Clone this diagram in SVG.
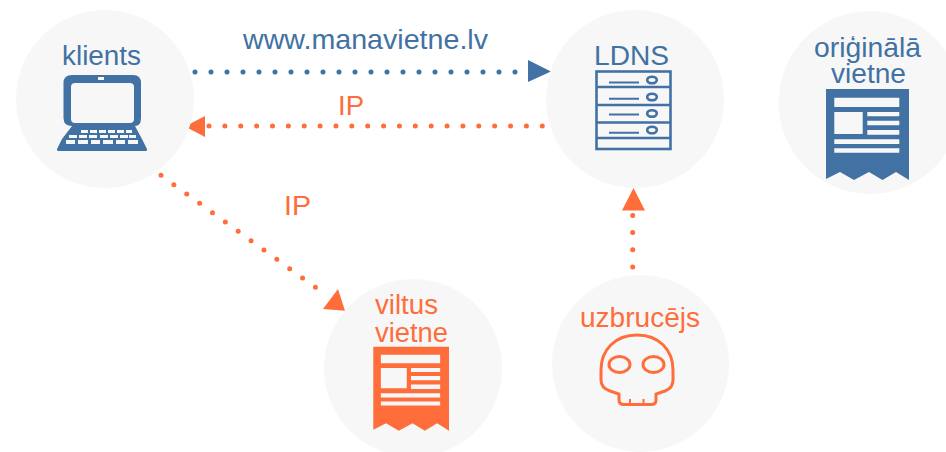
<svg xmlns="http://www.w3.org/2000/svg" xmlns:xlink="http://www.w3.org/1999/xlink" width="946" height="452" viewBox="0 0 946 452">
<style>
.c{fill:#f7f7f7}
.t{font-family:"Liberation Sans",Arial,sans-serif;font-size:27.500px}
.b{fill:#4172a3}
.o{fill:#fe6d3a}
.d{fill:none;stroke-width:5;stroke-linecap:round;stroke-dasharray:0 16}
.sb{stroke:#4172a3}
.so{stroke:#fe6d3a}
.i{fill:#f7f7f7}
</style>
<defs>
<g id="doc">
<path d="M0 0H83V91L70 83 56.500 91 43 83 28 91 14 83 0 90Z"/>
<path class="i" d="M8.300 8.700H73.300V18H8.300ZM8.300 23H36.700V45H8.300ZM41.300 23H73.300V27.300H41.300ZM41.300 31.700H73.300V36.300H41.300ZM41.300 41H73.300V45.700H41.300ZM8.300 50.300H73.300V55H8.300ZM8.300 59.300H73.300V63.700H8.300Z"/>
</g>
</defs>
<rect width="946" height="452" fill="#fff"/>
<g id="connectors">
<line class="d sb" x1="195" y1="72" x2="525" y2="72"/>
<polygon class="b" points="528,60 551,71.500 528,82"/>
<line class="d so" x1="209" y1="126" x2="544" y2="126" style="stroke-dasharray:0 15.870"/>
<polygon class="o" points="185,126.500 205,116 205,137"/>
<line class="d so" x1="161" y1="175.300" x2="328" y2="296.500" style="stroke-dasharray:0 15.900"/>
<polygon class="o" points="338,289 345,310.700 323,309"/>
<line class="d so" x1="632.700" y1="267" x2="632.700" y2="214" style="stroke-dasharray:0 17.200"/>
<polygon class="o" points="633.500,188 645,210.500 622,210.500"/>
</g>
<g id="klients">
<circle class="c" cx="105" cy="99" r="89"/>
<path class="b" fill-rule="evenodd" d="M72 75H133Q141 75 141 83V118Q141 126 135 126L142 139 147 149Q147.500 151 145 151H59Q56.500 151 57 149L62 139 72 126Q63.500 126 63.500 118V83Q63.500 75 72 75ZM75 83Q71 83 71 87V119Q71 123 75 123H130Q134 123 134 119V87Q134 83 130 83Z"/>
<path class="i" d="M98 77H104V80H98ZM81 130H88V133H81ZM90 130H97V133H90ZM99 130H106V133H99ZM108 130H115V133H108ZM117 130H124V133H117ZM126 130H132V133H126ZM69 135H77V138H69ZM79 135H87V138H79ZM89 135H97V138H89ZM100 135H108V138H100ZM110 135H118V138H110ZM120 135H128V138H120ZM129 135H136V138H129ZM66 140H75V144H66ZM78 140H88V144H78ZM91 140H100V144H91ZM103 140H113V144H103ZM116 140H125V144H116ZM128 140H138V144H128Z"/>
<text class="t b" x="62" y="65" textLength="79" lengthAdjust="spacingAndGlyphs">klients</text>
</g>
<g id="ldns">
<circle class="c" cx="635" cy="99" r="89"/>
<g fill="none" stroke="#4172a3" stroke-width="2.600">
<rect x="596.500" y="71.500" width="74" height="77.500"/>
<path d="M596.500 87H670.500M596.500 105H670.500M596.500 122.500H670.500M596.500 138H670.500"/>
<path stroke-width="2" d="M609 82.500H639M609 98.700H639M609 114.500H639M609 132.700H639"/>
<ellipse cx="652" cy="80" rx="4.800" ry="3.300"/>
<ellipse cx="652" cy="97" rx="4.800" ry="3.300"/>
<ellipse cx="652" cy="113.500" rx="4.800" ry="3.300"/>
<ellipse cx="652" cy="130" rx="4.800" ry="3.300"/>
</g>
<text class="t b" x="594" y="65" textLength="75" lengthAdjust="spacingAndGlyphs">LDNS</text>
</g>
<g id="originala">
<circle class="c" cx="870" cy="102.500" r="91.500"/>
<use xlink:href="#doc" href="#doc" class="b" transform="translate(826 89)"/>
<text class="t b" x="814" y="56.500" textLength="107" lengthAdjust="spacingAndGlyphs">oriģinālā</text>
<text class="t b" x="831" y="83" textLength="75" lengthAdjust="spacingAndGlyphs">vietne</text>
</g>
<g id="viltus">
<circle class="c" cx="413" cy="368" r="89"/>
<use xlink:href="#doc" href="#doc" class="o" transform="translate(373.300 346.700) scale(.912 .923)"/>
<text class="t o" x="375" y="314" textLength="63" lengthAdjust="spacingAndGlyphs">viltus</text>
<text class="t o" x="375" y="341.500" textLength="73" lengthAdjust="spacingAndGlyphs">vietne</text>
</g>
<g id="uzbrucejs">
<circle class="c" cx="640.500" cy="363.500" r="88.500"/>
<g fill="none" stroke="#fe6d3a" stroke-width="3">
<path d="M637 335C615 335 601 350 601 370V380Q601 388 610 391L619 394V400Q619 404.500 624 404.500H651Q656 404.500 656 400V394L665 391Q673 388 673 380V370C673 350 659 335 637 335Z"/>
<ellipse cx="619.500" cy="364.500" rx="10.500" ry="8"/>
<ellipse cx="653.500" cy="364.500" rx="10.500" ry="8"/>
<path stroke-width="2" d="M630 399V404.500M643.500 399V404.500"/>
</g>
<text class="t o" x="580" y="327" textLength="120" lengthAdjust="spacingAndGlyphs">uzbrucējs</text>
</g>
<g id="labels">
<text class="t b" x="243" y="49" textLength="245" lengthAdjust="spacingAndGlyphs">www.manavietne.lv</text>
<text class="t o" x="338" y="115" textLength="26" lengthAdjust="spacingAndGlyphs">IP</text>
<text class="t o" x="284" y="215" textLength="27" lengthAdjust="spacingAndGlyphs">IP</text>
</g>
</svg>
